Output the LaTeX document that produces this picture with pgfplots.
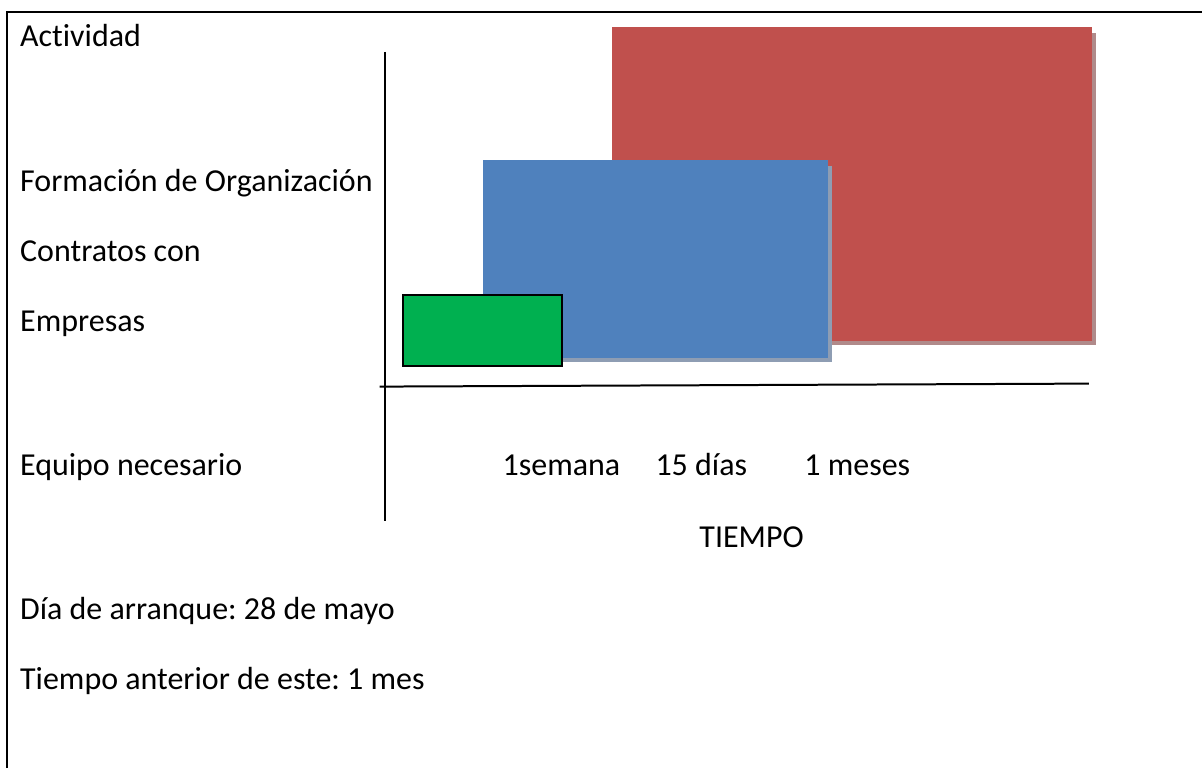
\documentclass[border=0pt]{standalone}
\usepackage{pgfplots}
\pgfplotsset{compat=1.18}
\usepackage{fontspec}
\setmainfont{Carlito}[Ligatures=NoCommon]
\frenchspacing
\definecolor{cred}{HTML}{C0504D}
\definecolor{cblue}{HTML}{4F81BD}
\definecolor{cgreen}{HTML}{00B050}
\definecolor{shred}{HTML}{B08A8A}
\definecolor{shblue}{HTML}{8E9DB3}
\tikzset{tx/.style={anchor=base west, inner sep=0pt, font=\fontsize{32}{38}\selectfont, text=black}}
\begin{document}
\begin{tikzpicture}
\begin{axis}[
  scale only axis, width=1203pt, height=769pt,
  xmin=0, xmax=1203, ymin=0, ymax=769, y dir=reverse,
  hide axis, clip=false,
]
% white page
\addplot[fill=white, draw=none] coordinates {(0,0) (1203,0) (1203,769) (0,769)} --cycle;
% frame
\addplot[black, line width=2.5pt] coordinates {(7,769) (7,12) (1203,12)};
% red bar with shadow
\addplot[fill=shred, draw=none] coordinates {(617,33) (1097,33) (1097,345) (617,345)} --cycle;
\addplot[fill=cred, draw=none] coordinates {(613,27) (1093,27) (1093,341) (613,341)} --cycle;
% blue bar with shadow
\addplot[fill=shblue, draw=none] coordinates {(487,166) (833,166) (833,362) (487,362)} --cycle;
\addplot[fill=cblue, draw=none] coordinates {(483,160) (829,160) (829,358) (483,358)} --cycle;
% green bar
\addplot[fill=cgreen, draw=black, line width=2pt] coordinates {(403,295) (563,295) (563,366) (403,366)} --cycle;
% axis lines
\addplot[black, line width=2pt] coordinates {(385,52) (385,522)};
\addplot[black, line width=2pt] coordinates {(380,387) (1090,384)};
% texts
\node[tx] at (axis cs:20,47) {Actividad};
\node[tx] at (axis cs:20,192) {Formación de Organización};
\node[tx] at (axis cs:20,262) {Contratos con};
\node[tx] at (axis cs:20,332) {Empresas};
\node[tx] at (axis cs:20,476) {Equipo necesario};
\node[tx] at (axis cs:503,476) {1semana};
\node[tx] at (axis cs:656,476) {15 días};
\node[tx] at (axis cs:805,476) {1 meses};
\node[tx] at (axis cs:700,548) {TIEMPO};
\node[tx] at (axis cs:20,620) {Día de arranque: 28 de mayo};
\node[tx] at (axis cs:20,690) {Tiempo anterior de este: 1 mes};
\end{axis}
\end{tikzpicture}
\end{document}
